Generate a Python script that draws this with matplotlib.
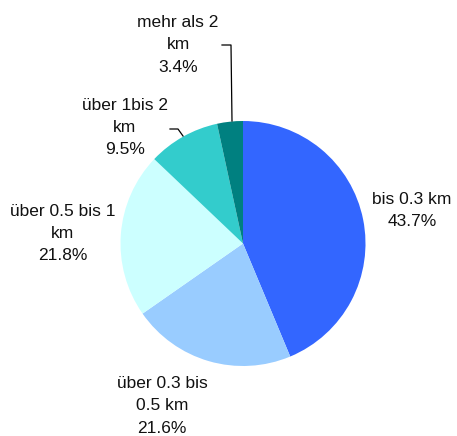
import matplotlib
matplotlib.use("Agg")
import matplotlib.pyplot as plt

categories = ["bis 0.3 km", "über 0.3 bis\n0.5 km", "über 0.5 bis 1\nkm", "über 1bis 2\nkm", "mehr als 2\nkm"]
values = [43.7, 21.6, 21.8, 9.5, 3.4]
colors = ["#3366FF", "#99CCFF", "#CCFFFF", "#33CCCC", "#008080"]

W, H = 457, 436
fig = plt.figure(figsize=(W / 100, H / 100), dpi=100)
ax = fig.add_axes([0, 0, 1, 1])

cx, cy, r = 243, H - 243.5, 122.5
ax.pie(values, colors=colors, startangle=90, counterclock=False,
       center=(cx, cy), radius=r, wedgeprops=dict(linewidth=0),
       frame=True)
ax.set_xlim(0, W)
ax.set_ylim(0, H)
ax.set_aspect("equal")
ax.axis("off")

font = dict(family=["Liberation Sans", "DejaVu Sans"], fontsize=12.5, color="#111111",
            ha="center", va="center", linespacing=1.62)

label_pos = [(412, 210.5), (162, 406), (63, 233.5), (125, 127.5), (178, 45)]
for cat, v, (px, py) in zip(categories, values, label_pos):
    ax.text(px, H - py, f"{cat}\n{v:.1f}%", **font)

# leader lines
ax.plot([222, 231, 232], [H - 45, H - 45, H - 121], color="black", lw=0.9)
ax.plot([170, 178, 183], [H - 129, H - 129, H - 136], color="black", lw=0.9)

fig.savefig("out.png", dpi=100)
